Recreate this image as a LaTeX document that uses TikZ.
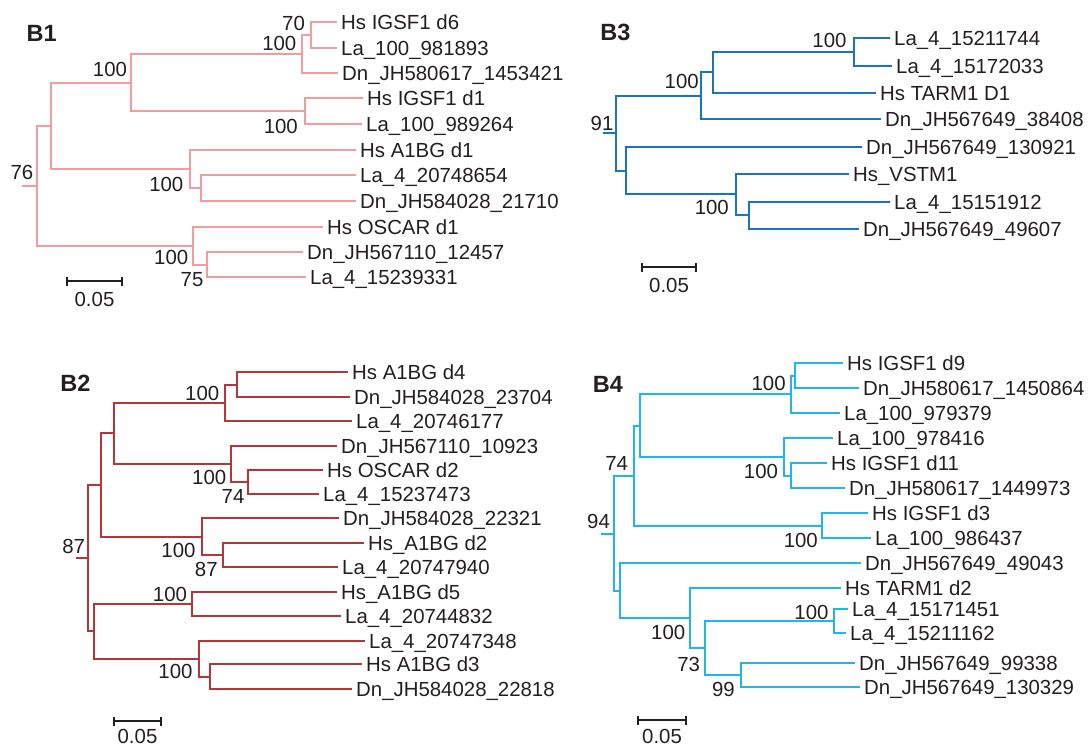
\documentclass[tikz,border=0pt]{standalone}
\usepackage{fontspec}
\setmainfont{Liberation Sans}
\usetikzlibrary{arrows.meta}

\definecolor{inkc}{HTML}{231F20}
\definecolor{pinkc}{HTML}{F29C9F}
\definecolor{redc}{HTML}{B2363A}
\definecolor{bluec}{HTML}{1A75BC}
\definecolor{cyanc}{HTML}{22B5E8}

\tikzset{
    leaf/.style={anchor=base west, inner sep=0pt, xshift=4pt, yshift=-7.3pt, text=inkc},
    boot/.style={inner sep=0pt, text=inkc},
    panel/.style={inner sep=0pt, text=inkc, font=\fontsize{23.5}{28}\selectfont\bfseries},
    sbar/.style={draw=inkc, line width=2pt, {Bar[width=9pt]}-{Bar[width=9pt]}},
    branch/.style={line width=2pt}
}

\begin{document}
\begin{tikzpicture}[x=1pt, y=-1pt, font=\fontsize{20.4}{24}\selectfont]
    \useasboundingbox (0,0) rectangle (1091,749);

    % B1
    \node[panel] (t1) at (41.7,33.3) {B1};
    \foreach \n/\x/\y/\lab in {%
        1/337/22/Hs IGSF1 d6,
        2/337/48/La\_100\_981893,
        3/338/73/Dn\_JH580617\_1453421,
        4/363/98/Hs IGSF1 d1,
        5/362/124/La\_100\_989264,
        6/356/150/Hs A1BG d1,
        7/356/175/La\_4\_20748654,
        8/356/201/Dn\_JH584028\_21710,
        9/323/227/Hs OSCAR d1,
        10/303/252/Dn\_JH567110\_12457,
        11/306/277/La\_4\_15239331%
        }{
        \coordinate (p\n) at (\x,\y);
        \node[leaf] (lp\n) at (p\n) {\lab};
    }
    \foreach \n/\x/\y in {21/311/35, 22/302/54, 23/305/111, 24/131/83, 25/201/188,
        26/190/169, 27/51/126, 28/207/265, 29/193/246, 30/37/186, 20/22/186}{
        \coordinate (p\n) at (\x,\y);
    }
    \draw[branch, pinkc] \foreach \u/\v in {21/1, 21/2, 22/21, 22/3, 23/4, 23/5, 24/22,
        24/23, 25/7, 25/8, 26/6, 26/25, 27/24, 27/26, 28/10, 28/11, 29/9, 29/28, 30/27,
        30/29}{(p\u) |- (p\v)};
    \draw[branch, pinkc] (p20) -- (p30);
    \foreach \x/\y/\v [count=\k] in {293.5/23.3/70, 279.3/43.3/100, 280.8/126/100,
        110/69.3/100, 166.3/184/100, 192/279.3/75, 171.2/257.7/100, 22/172.5/76}{
        \node[boot] (bp\k) at (\x,\y) {\v};
    }
    \coordinate (s1a) at (66,281);
    \coordinate (s1b) at (123,281);
    \draw[sbar] (s1a) -- node[midway, below=10pt, inner sep=0pt, text=inkc] (sl1) {0.05} (s1b);

    % B3
    \node[panel] (t3) at (615.5,32.3) {B3};
    \foreach \n/\x/\y/\lab in {%
        1/890/38/La\_4\_15211744,
        2/892/66/La\_4\_15172033,
        3/876/93/Hs TARM1 D1,
        4/881/119/Dn\_JH567649\_38408,
        5/862/147/Dn\_JH567649\_130921,
        6/849/174/Hs\_VSTM1,
        7/890/202/La\_4\_15151912,
        8/859/229/Dn\_JH567649\_49607%
        }{
        \coordinate (r\n) at (\x,\y);
        \node[leaf] (lr\n) at (r\n) {\lab};
    }
    \foreach \n/\x/\y in {21/854/52, 22/713/72, 23/701/96, 24/749/215, 25/736/194,
        26/626/171, 27/616/133, 20/603/133}{
        \coordinate (r\n) at (\x,\y);
    }
    \draw[branch, bluec] \foreach \u/\v in {21/1, 21/2, 22/21, 22/3, 23/22, 23/4, 24/7,
        24/8, 25/6, 25/24, 26/5, 26/25, 27/23, 27/26}{(r\u) |- (r\v)};
    \draw[branch, bluec] (r20) -- (r27);
    \foreach \x/\y/\v [count=\k] in {829.5/40.7/100, 681.7/81.7/100, 711.8/207.3/100,
        602/123.5/91}{
        \node[boot] (br\k) at (\x,\y) {\v};
    }
    \coordinate (s3a) at (641,267);
    \coordinate (s3b) at (697,267);
    \draw[sbar] (s3a) -- node[midway, below=10pt, inner sep=0pt, text=inkc] (sl3) {0.05} (s3b);

    % B2
    \node[panel] (t2) at (75.5,383.3) {B2};
    \foreach \n/\x/\y/\lab in {%
        1/348/372/Hs A1BG d4,
        2/350/397/Dn\_JH584028\_23704,
        3/352/421/La\_4\_20746177,
        4/337/446/Dn\_JH567110\_10923,
        5/323/470/Hs OSCAR d2,
        6/319/494/La\_4\_15237473,
        7/339/518/Dn\_JH584028\_22321,
        8/364/543/Hs\_A1BG d2,
        9/338/567/La\_4\_20747940,
        10/337/592/Hs\_A1BG d5,
        11/341/616/La\_4\_20744832,
        12/365/641/La\_4\_20747348,
        13/362/664/Hs A1BG d3,
        14/352/689/Dn\_JH584028\_22818%
        }{
        \coordinate (s\n) at (\x,\y);
        \node[leaf] (ls\n) at (s\n) {\lab};
    }
    \foreach \n/\x/\y in {21/237/385, 22/225/403, 23/248/482, 24/231/464, 25/114/433,
        26/223/555, 27/202/537, 28/101/485, 29/192/604, 30/210/677, 31/199/659,
        32/94/631, 33/88/558, 20/76/558}{
        \coordinate (s\n) at (\x,\y);
    }
    \draw[branch, redc] \foreach \u/\v in {21/1, 21/2, 22/21, 22/3, 23/5, 23/6, 24/4,
        24/23, 25/22, 25/24, 26/8, 26/9, 27/7, 27/26, 28/25, 28/27, 29/10, 29/11, 30/13,
        30/14, 31/12, 31/30, 32/29, 32/31, 33/28, 33/32}{(s\u) |- (s\v)};
    \draw[branch, redc] (s20) -- (s33);
    \foreach \x/\y/\v [count=\k] in {202.2/393.3/100, 233/496.7/74, 209.2/477.3/100,
        206.3/569.3/87, 178.5/550.7/100, 170/594/100, 175.5/671.7/100, 73.7/546.7/87}{
        \node[boot] (bs\k) at (\x,\y) {\v};
    }
    \coordinate (s2a) at (113,721);
    \coordinate (s2b) at (162,721);
    \draw[sbar] (s2a) -- node[midway, below=7pt, inner sep=0pt, text=inkc] (sl2) {0.05} (s2b);

    % B4
    \node[panel] (t4) at (607.8,384.3) {B4};
    \foreach \n/\x/\y/\lab in {%
        1/843/363/Hs IGSF1 d9,
        2/859/388/Dn\_JH580617\_1450864,
        3/840/413/La\_100\_979379,
        4/833/438/La\_100\_978416,
        5/827/463/Hs IGSF1 d11,
        6/845/488/Dn\_JH580617\_1449973,
        7/868/513/Hs IGSF1 d3,
        8/871/538/La\_100\_986437,
        9/861/563/Dn\_JH567649\_49043,
        10/841/588/Hs TARM1 d2,
        11/848/609/La\_4\_15171451,
        12/846/633/La\_4\_15211162,
        13/855/663/Dn\_JH567649\_99338,
        14/860/687/Dn\_JH567649\_130329%
        }{
        \coordinate (q\n) at (\x,\y);
        \node[leaf] (lq\n) at (q\n) {\lab};
    }
    \foreach \n/\x/\y in {21/795/376, 22/791/394, 23/791/476, 24/784/457, 25/640/426,
        26/822/526, 27/634/476, 28/834/621, 29/741/675, 30/705/648, 31/690/618,
        32/620/591, 33/614/534, 20/601/534}{
        \coordinate (q\n) at (\x,\y);
    }
    \draw[branch, cyanc] \foreach \u/\v in {21/1, 21/2, 22/21, 22/3, 23/5, 23/6, 24/4,
        24/23, 25/22, 25/24, 26/7, 26/8, 27/25, 27/26, 28/11, 28/12, 29/13, 29/14, 30/28,
        30/29, 31/10, 31/30, 32/9, 32/31, 33/27, 33/32}{(q\u) |- (q\v)};
    \draw[branch, cyanc] (q20) -- (q33);
    \foreach \x/\y/\v [count=\k] in {768.6/383.3/100, 761/471/100, 800.8/540/100,
        616.7/463.3/74, 811.5/612.7/100, 723.4/689/99, 688.7/664/73,
        668.2/632.7/100, 598.5/521/94}{
        \node[boot] (bq\k) at (\x,\y) {\v};
    }
    \coordinate (s4a) at (637,720);
    \coordinate (s4b) at (687,720);
    \draw[sbar] (s4a) -- node[midway, below=8pt, inner sep=0pt, text=inkc] (sl4) {0.05} (s4b);
\end{tikzpicture}
\end{document}
